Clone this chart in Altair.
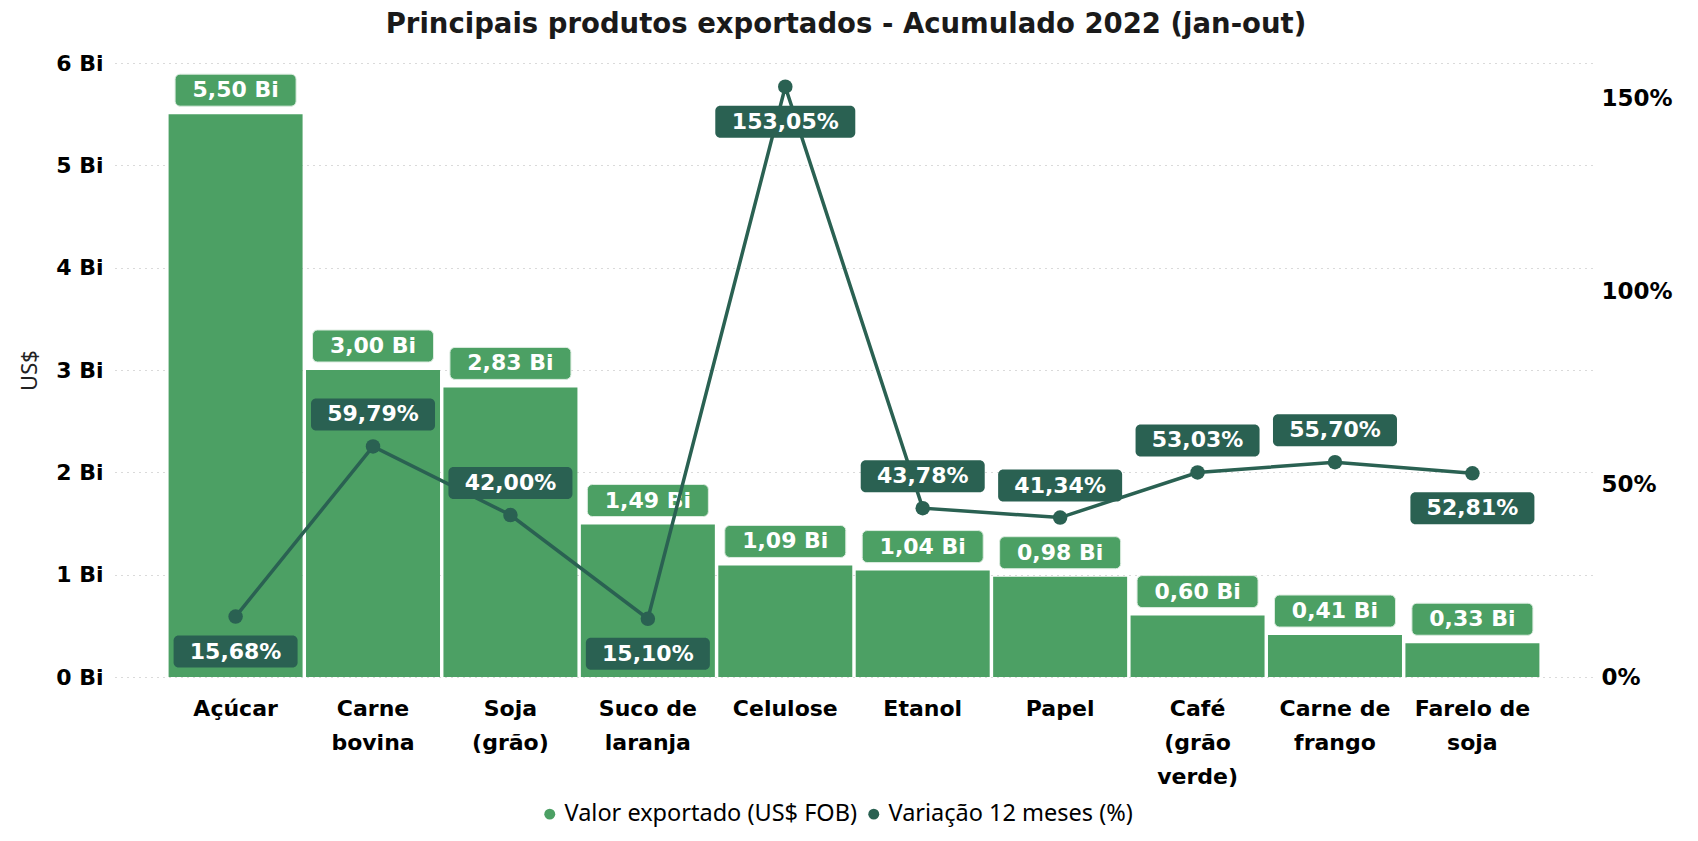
import altair as alt
import pandas as pd

# ---- data ----
categories = ["Açúcar", "Carne|bovina", "Soja|(grão)", "Suco de|laranja", "Celulose",
              "Etanol", "Papel", "Café|(grão|verde)", "Carne de|frango", "Farelo de|soja"]
valor_bi = [5.50, 3.00, 2.83, 1.49, 1.09, 1.04, 0.98, 0.60, 0.41, 0.33]
variacao_pct = [15.68, 59.79, 42.00, 15.10, 153.05, 43.78, 41.34, 53.03, 55.70, 52.81]
pct_label_side = ["below", "above", "above", "below", "below",
                  "above", "above", "above", "above", "below"]
left_ticks = [0, 1, 2, 3, 4, 5, 6]
right_ticks = [0, 50, 100, 150]
series_names = ["Valor exportado (US$ FOB)", "Variação 12 meses (%)"]

GREEN = "#4CA064"
DARK = "#2A6152"
BOLD_FONT = "DejaVu Sans"
UI_FONT = "Noto Sans"

df = pd.DataFrame({"cat": categories, "valor": valor_bi, "var": variacao_pct,
                   "side": pct_label_side})

base = alt.Chart(df).transform_calculate(
    vlabel="replace(format(datum.valor, '.2f'), '.', ',') + ' Bi'",
    plabel="replace(format(datum['var'], '.2f'), '.', ',') + '%'",
    s1="'" + series_names[0] + "'",
    s2="'" + series_names[1] + "'",
)

xscale = alt.Scale(paddingInner=0.025, paddingOuter=0.39)
x_ax = alt.Axis(title=None, labelExpr="split(datum.label, '|')",
                labelFontSize=22, labelFontWeight="bold", labelFont=BOLD_FONT,
                labelColor="black", labelLineHeight=34, labelPadding=21,
                domain=False, ticks=False, labelAngle=0, labelBaseline="top",
                labelLimit=300, grid=False)
X = alt.X("cat:N", sort=categories, scale=xscale, axis=x_ax)

lscale = alt.Scale(domain=[0, 6], nice=False, zero=True)
rscale = alt.Scale(domain=[0, 159.2], nice=False, zero=True)

l_ax = alt.Axis(values=left_ticks, labelExpr="datum.value + ' Bi'",
                title="US$", titleFont=UI_FONT, titleFontSize=22,
                titleFontWeight="normal", titleColor="#222", titlePadding=14,
                grid=True, gridDash=[1, 5], gridColor="#b5b5b5", gridWidth=1.2,
                domain=False, ticks=False, labelPadding=12, labelFontSize=22,
                labelFontWeight="bold", labelFont=BOLD_FONT, labelColor="black")
YL = alt.Y("valor:Q", scale=lscale, axis=l_ax)

r_ax = alt.Axis(orient="right", values=right_ticks, labelExpr="datum.value + '%'",
                title=None, grid=False, domain=False, ticks=False, labelPadding=8,
                labelFontSize=23, labelFontWeight="bold", labelFont=BOLD_FONT,
                labelColor="black")
YR = alt.Y("var:Q", scale=rscale, axis=r_ax)

color_scale = alt.Scale(domain=series_names, range=[GREEN, DARK])
legend = alt.Legend(title=None, orient="none", legendX=423, legendY=739,
                    direction="horizontal", symbolType="circle", symbolSize=120,
                    labelFont=UI_FONT, labelFontSize=23.5, labelColor="black",
                    columnPadding=4, labelOffset=3, labelLimit=600)

bars = base.mark_bar(opacity=1).encode(
    x=X, y=YL,
    color=alt.Color("s1:N", scale=color_scale, legend=legend),
)
bar_boxes = base.mark_bar(width=121, cornerRadius=5, yOffset=-8, y2Offset=-40,
                          color=GREEN, stroke="#dcece0", strokeWidth=1).encode(
    x=X, y=YL, y2="valor:Q")
bar_texts = base.mark_text(dy=-24, fontSize=22, fontWeight="bold", font=BOLD_FONT,
                           color="white").encode(x=X, y=YL, text="vlabel:N")

left = alt.layer(bars, bar_boxes, bar_texts)

line = base.mark_line(color=DARK, strokeWidth=3.5).encode(x=X, y=YR)
pts = base.mark_circle(size=210, opacity=1).encode(
    x=X, y=YR,
    color=alt.Color("s2:N", scale=color_scale, legend=legend))

side_offsets = {"above": (-16, -48, -32), "below": (19, 51, 35)}
pct_layers = []
for side, (o1, o2, dy) in side_offsets.items():
    for cond, w in (("length(datum.plabel) <= 6", 124), ("length(datum.plabel) > 6", 140)):
        pct_layers.append(
            base.transform_filter(f"datum.side == '{side}' && {cond}")
            .mark_bar(width=w, cornerRadius=5, yOffset=o1, y2Offset=o2, color=DARK)
            .encode(x=X, y=YR, y2="var:Q"))
    pct_layers.append(
        base.transform_filter(f"datum.side == '{side}'")
        .mark_text(dy=dy, fontSize=22, fontWeight="bold", font=BOLD_FONT, color="white")
        .encode(x=X, y=YR, text="plabel:N"))

right = alt.layer(line, pts, *pct_layers)

chart = alt.layer(left, right).resolve_scale(y="independent").properties(
    width=1478, height=614,
    padding={"left": 115, "top": 63, "right": 105, "bottom": 164},
    autosize=alt.AutoSizeParams(type="none"),
    title=alt.TitleParams("Principais produtos exportados - Acumulado 2022 (jan-out)",
                          fontSize=27.5, font=BOLD_FONT, fontWeight="bold", color="#1a1a1a",
                          anchor="middle", offset=14, dx=-8),
).configure(background="white").configure_view(stroke=None)

chart.save("out.html", embed_options={"renderer": "svg", "actions": False})
